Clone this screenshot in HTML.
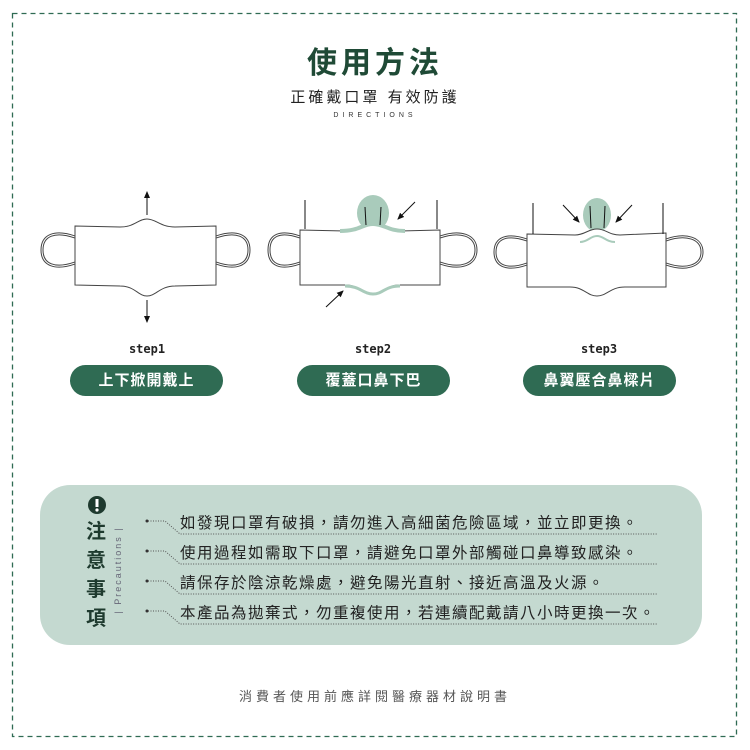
<!DOCTYPE html>
<html><head><meta charset="utf-8"><style>
body{margin:0;width:750px;height:750px;background:#fff;font-family:"Liberation Sans","Noto Sans CJK TC",sans-serif;position:relative;overflow:hidden}
.a{position:absolute}
.btn{position:absolute;top:365px;height:31px;width:153px;border-radius:16px;background:#2f6b53;color:#fff;font-size:15px;font-weight:bold;text-align:center;line-height:31px;letter-spacing:1px}
.st{position:absolute;top:342px;width:100px;text-align:center;font-family:"DejaVu Sans Mono",monospace;font-weight:bold;font-size:12px;color:#222}
.ln{position:absolute;left:180px;font-size:15.5px;color:#222;letter-spacing:1.5px;white-space:nowrap}
</style></head><body>
<svg class="a" style="left:0;top:0" width="750" height="750">
<rect x="12.5" y="13.5" width="724" height="723" fill="none" stroke="#2f6b53" stroke-width="1.3" stroke-dasharray="5,4"/>
<defs><marker id="ar" markerWidth="8" markerHeight="8" refX="6" refY="4" orient="auto"><path d="M0,1 L7,4 L0,7z" fill="#111"/></marker></defs>
<g fill="none" stroke="#444" stroke-width="1">
<path d="M75,237 C55,230 42,235 42,250 C42,265 55,270 75,263" stroke-width="3"/><path d="M75,237 C55,230 42,235 42,250 C42,265 55,270 75,263" stroke="#fff" stroke-width="1"/>
<path d="M216,237 C236,230 249,235 249,250 C249,265 236,270 216,263" stroke-width="3"/><path d="M216,237 C236,230 249,235 249,250 C249,265 236,270 216,263" stroke="#fff" stroke-width="1"/>
<path d="M75,226 L120,227 C135,227 138,219 147,219 C156,219 160,227 175,227 L216,226 L216,285 L175,286 C160,286 156,296 147,296 C138,296 135,286 120,286 L75,285Z" fill="#fff"/>
<line x1="147" y1="215" x2="147" y2="192" stroke="#111" marker-end="url(#ar)"/>
<line x1="147" y1="300" x2="147" y2="322" stroke="#111" marker-end="url(#ar)"/>
<ellipse cx="373" cy="213" rx="16" ry="18" fill="#a9cbbb" stroke="none"/>
<path d="M300,237 C280,230 269,235 269,250 C269,265 280,270 300,263" stroke-width="3"/><path d="M300,237 C280,230 269,235 269,250 C269,265 280,270 300,263" stroke="#fff"/>
<path d="M440,237 C460,230 476,235 476,250 C476,265 460,270 440,263" stroke-width="3"/><path d="M440,237 C460,230 476,235 476,250 C476,265 460,270 440,263" stroke="#fff"/>
<path d="M300,230 L345,231 C360,231 362,224 373,224 C384,224 388,231 400,231 L440,230 L440,285 L400,285 C385,285 383,294 373,294 C363,294 360,285 345,285 L300,285Z" fill="#fff"/>
<path d="M340,231 C360,231 362,224 373,224 C384,224 388,231 405,231" stroke="#a9cbbb" stroke-width="4"/>
<path d="M345,286 C360,286 363,294 373,294 C383,294 385,286 400,286" stroke="#a9cbbb" stroke-width="3"/>
<line x1="305" y1="200" x2="305" y2="229" stroke="#111"/><line x1="437" y1="200" x2="437" y2="229" stroke="#111"/>
<line x1="365" y1="207" x2="366" y2="225" stroke="#111"/><line x1="381" y1="207" x2="380" y2="225" stroke="#111"/>
<line x1="415" y1="202" x2="398" y2="219" stroke="#111" marker-end="url(#ar)"/>
<line x1="326" y1="307" x2="343" y2="291" stroke="#111" marker-end="url(#ar)"/>
<ellipse cx="597" cy="215" rx="14" ry="17" fill="#a9cbbb" stroke="none"/>
<path d="M527,240 C507,233 495,238 495,252 C495,266 507,271 527,264" stroke-width="3"/><path d="M527,240 C507,233 495,238 495,252 C495,266 507,271 527,264" stroke="#fff"/>
<path d="M666,240 C686,233 702,238 702,252 C702,266 686,271 666,264" stroke-width="3"/><path d="M666,240 C686,233 702,238 702,252 C702,266 686,271 666,264" stroke="#fff"/>
<path d="M527,234 L575,235 C585,235 588,229 597,229 C606,229 609,235 620,235 L666,233 L666,287 L625,287 C610,287 607,296 597,296 C587,296 584,287 570,287 L527,287Z" fill="#fff"/>
<path d="M580,242 C588,242 590,236 597,236 C604,236 606,242 615,242" stroke="#a9cbbb" stroke-width="2"/>
<line x1="533" y1="203" x2="533" y2="234" stroke="#111"/><line x1="663" y1="203" x2="663" y2="234" stroke="#111"/>
<line x1="590" y1="206" x2="591" y2="228" stroke="#111"/><line x1="605" y1="206" x2="604" y2="228" stroke="#111"/>
<line x1="563" y1="205" x2="579" y2="222" stroke="#111" marker-end="url(#ar)"/>
<line x1="632" y1="205" x2="616" y2="222" stroke="#111" marker-end="url(#ar)"/>
</g>
<rect x="40" y="485" width="662" height="160" rx="30" fill="#c4d9d0"/>
<circle cx="97" cy="505" r="9" fill="#1e3a2e"/><rect x="95.5" y="499" width="3" height="8" fill="#fff"/><circle cx="97" cy="510" r="1.6" fill="#fff"/>
<g fill="none" stroke="#555" stroke-width="1" stroke-dasharray="1,1.5">
<path d="M148,521 H165 L180,534 H657"/><path d="M148,551 H165 L180,564 H657"/><path d="M148,581 H165 L180,594 H657"/><path d="M148,611 H165 L180,624 H657"/>
</g>
<g fill="#333"><circle cx="147" cy="521" r="1.5"/><circle cx="147" cy="551" r="1.5"/><circle cx="147" cy="581" r="1.5"/><circle cx="147" cy="611" r="1.5"/></g>
<text x="121" y="570" transform="rotate(-90 121 570)" text-anchor="middle" font-family="Liberation Sans" font-size="9" letter-spacing="2" fill="#667">| Precautions |</text>
</svg>
<div class="a" style="left:0;width:750px;top:38px;text-align:center;font-size:30px;font-weight:bold;color:#1f4a36;letter-spacing:4px">使用方法</div>
<div class="a" style="left:0;width:750px;top:86px;text-align:center;font-size:15px;color:#222;letter-spacing:3px">正確戴口罩 有效防護</div>
<div class="a" style="left:0;width:750px;top:112px;text-align:center;font-size:7px;color:#333;letter-spacing:4px">DIRECTIONS</div>
<div class="st" style="left:97px">step1</div><div class="st" style="left:323px">step2</div><div class="st" style="left:549px">step3</div>
<div class="btn" style="left:70px">上下掀開戴上</div><div class="btn" style="left:297px">覆蓋口鼻下巴</div><div class="btn" style="left:523px">鼻翼壓合鼻樑片</div>
<div class="a" style="left:86px;top:518px;width:22px;font-size:20px;font-weight:bold;color:#1e3a2e;line-height:29px">注<br>意<br>事<br>項</div>
<div class="ln" style="top:511px">如發現口罩有破損，請勿進入高細菌危險區域，並立即更換。</div>
<div class="ln" style="top:541px">使用過程如需取下口罩，請避免口罩外部觸碰口鼻導致感染。</div>
<div class="ln" style="top:571px">請保存於陰涼乾燥處，避免陽光直射、接近高溫及火源。</div>
<div class="ln" style="top:601px">本產品為拋棄式，勿重複使用，若連續配戴請八小時更換一次。</div>
<div class="a" style="left:0;width:750px;top:686px;text-align:center;font-size:13px;color:#555;letter-spacing:4px">消費者使用前應詳閱醫療器材說明書</div>
</body></html>
